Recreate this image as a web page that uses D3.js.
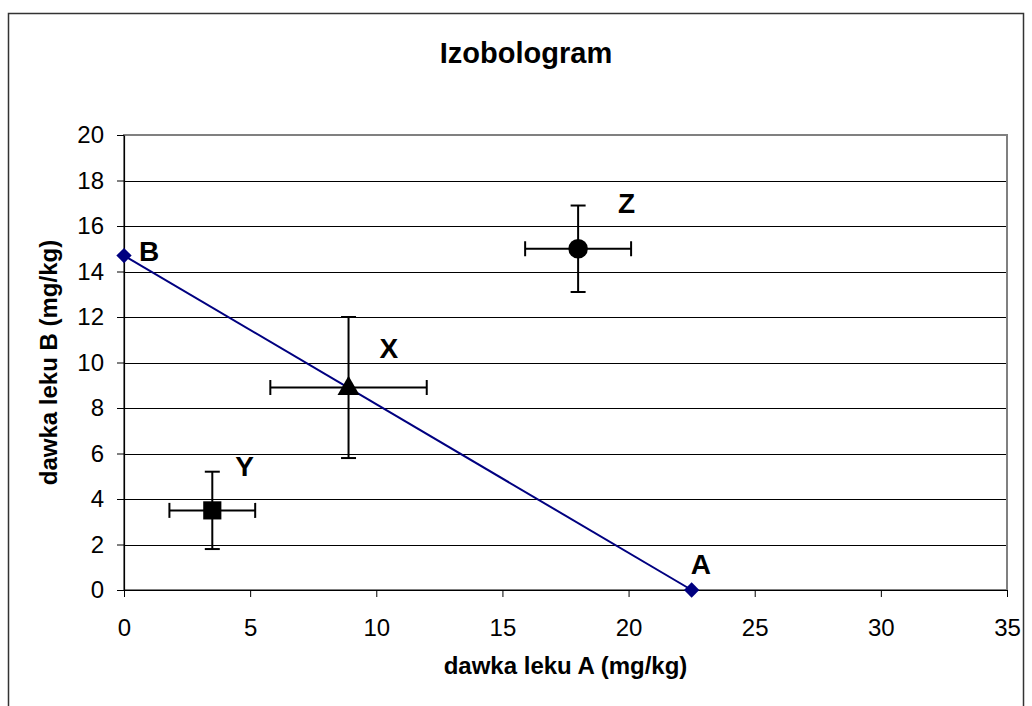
<!DOCTYPE html>
<html>
<head>
<meta charset="utf-8">
<script src="https://cdn.jsdelivr.net/npm/d3@7"></script>
<style>
  html, body { margin: 0; padding: 0; background: #fff; }
  svg { display: block; }
  text { font-family: "Liberation Sans", Arial, sans-serif; fill: #000; }
</style>
</head>
<body>
<div id="chart"></div>
<script>
// ---- data ----
const chartTitle = "Izobologram";
const xAxisTitle = "dawka leku A (mg/kg)";
const yAxisTitle = "dawka leku B (mg/kg)";
const xTicks = [0, 5, 10, 15, 20, 25, 30, 35];
const yTicks = [0, 2, 4, 6, 8, 10, 12, 14, 16, 18, 20];

// isobole line (B on y-axis, A on x-axis)
const lineNames = ["B", "A"];
const lineX = [0, 22.5];
const lineY = [14.7, 0];

// measured combinations
const pointNames = ["X", "Y", "Z"];
const pointX = [8.9, 3.5, 18];
const pointY = [8.9, 3.5, 15];
const pointXErr = [3.1, 1.7, 2.1];
const pointYErr = [3.1, 1.7, 1.9];
const pointShapes = ["triangle", "square", "circle"];

// ---- layout / style ----
const W = 1032, H = 706;
const plot = { left: 124, top: 135, right: 1007, bottom: 590 };
const labelOffsets = {
  B: [15, 5], A: [-1, -16],
  X: [31, -30], Y: [23, -34], Z: [40, -36]
};

const svg = d3.select("#chart").append("svg").attr("width", W).attr("height", H);

// outer chart frame
svg.append("rect").attr("x", 8.5).attr("y", 13.5).attr("width", 1015).attr("height", 720)
  .attr("fill", "#fff").attr("stroke", "#333").attr("stroke-width", 1.5);

const x = d3.scaleLinear().domain([0, 35]).range([plot.left, plot.right]);
const y = d3.scaleLinear().domain([0, 20]).range([plot.bottom, plot.top]);

// gridlines
svg.append("g").selectAll("line").data(yTicks.filter(t => t > 0 && t < 20)).join("line")
  .attr("x1", plot.left).attr("x2", plot.right)
  .attr("y1", d => Math.round(y(d)) + 0.5).attr("y2", d => Math.round(y(d)) + 0.5)
  .attr("stroke", "#000").attr("stroke-width", 1);

// plot area border
svg.append("rect").attr("x", plot.left).attr("y", plot.top)
  .attr("width", plot.right - plot.left).attr("height", plot.bottom - plot.top)
  .attr("fill", "none").attr("stroke", "#808080").attr("stroke-width", 2);

// axes
const xAxis = d3.axisBottom(x).tickValues(xTicks).tickSizeInner(7).tickSizeOuter(0).tickPadding(22);
const yAxis = d3.axisLeft(y).tickValues(yTicks).tickSizeInner(7).tickSizeOuter(0).tickPadding(13);

const gx = svg.append("g").attr("transform", `translate(0,${plot.bottom})`).call(xAxis);
const gy = svg.append("g").attr("transform", `translate(${plot.left},0)`).call(yAxis);
[gx, gy].forEach(g => {
  g.selectAll(".domain").attr("stroke", "#000").attr("stroke-width", 1.2);
  g.selectAll(".tick line").attr("stroke", "#000").attr("stroke-width", 1);
  g.selectAll(".tick text").attr("font-size", 24)
    .attr("font-family", "'Liberation Sans', Arial, sans-serif").attr("fill", "#000");
});

// titles
svg.append("text").attr("x", 526).attr("y", 63).attr("text-anchor", "middle")
  .attr("font-size", 29).attr("font-weight", "bold").text(chartTitle);
svg.append("text").attr("x", (plot.left + plot.right) / 2).attr("y", 674).attr("text-anchor", "middle")
  .attr("font-size", 24).attr("font-weight", "bold").text(xAxisTitle);
svg.append("text").attr("transform", `translate(57,${(plot.top + plot.bottom) / 2}) rotate(-90)`)
  .attr("text-anchor", "middle").attr("font-size", 24).attr("font-weight", "bold").text(yAxisTitle);

// isobole line
const linePts = lineX.map((v, i) => [x(v), y(lineY[i])]);
svg.append("path").attr("d", d3.line()(linePts))
  .attr("fill", "none").attr("stroke", "#000080").attr("stroke-width", 2);
svg.append("g").selectAll("path").data(linePts).join("path")
  .attr("transform", d => `translate(${d[0]},${d[1]})`)
  .attr("d", d3.symbol(d3.symbolDiamond2, 150)())
  .attr("fill", "#000080");
svg.append("g").selectAll("text").data(lineNames).join("text")
  .attr("x", (d, i) => linePts[i][0] + labelOffsets[d][0])
  .attr("y", (d, i) => linePts[i][1] + labelOffsets[d][1])
  .attr("font-size", 28).attr("font-weight", "bold").text(d => d);

// error bars
const cap = 7.5;
const eb = svg.append("g").attr("stroke", "#000").attr("stroke-width", 2).attr("fill", "none");
pointNames.forEach((n, i) => {
  const cx = x(pointX[i]), cy = y(pointY[i]);
  const x0 = x(pointX[i] - pointXErr[i]), x1 = x(pointX[i] + pointXErr[i]);
  const y0 = y(pointY[i] - pointYErr[i]), y1 = y(pointY[i] + pointYErr[i]);
  eb.append("line").attr("x1", x0).attr("x2", x1).attr("y1", cy).attr("y2", cy);
  eb.append("line").attr("x1", x0).attr("x2", x0).attr("y1", cy - cap).attr("y2", cy + cap);
  eb.append("line").attr("x1", x1).attr("x2", x1).attr("y1", cy - cap).attr("y2", cy + cap);
  eb.append("line").attr("x1", cx).attr("x2", cx).attr("y1", y0).attr("y2", y1);
  eb.append("line").attr("x1", cx - cap).attr("x2", cx + cap).attr("y1", y0).attr("y2", y0);
  eb.append("line").attr("x1", cx - cap).attr("x2", cx + cap).attr("y1", y1).attr("y2", y1);
});

// markers
const symbolMap = {
  triangle: d3.symbol(d3.symbolTriangle, 210)(),
  square: d3.symbol(d3.symbolSquare, 330)(),
  circle: d3.symbol(d3.symbolCircle, 300)()
};
svg.append("g").selectAll("path").data(pointNames).join("path")
  .attr("transform", (d, i) => `translate(${x(pointX[i])},${y(pointY[i]) + (pointShapes[i] === "triangle" ? 1 : 0)})`)
  .attr("d", (d, i) => symbolMap[pointShapes[i]])
  .attr("fill", "#000");
svg.append("g").selectAll("text").data(pointNames).join("text")
  .attr("x", (d, i) => x(pointX[i]) + labelOffsets[d][0])
  .attr("y", (d, i) => y(pointY[i]) + labelOffsets[d][1])
  .attr("font-size", 28).attr("font-weight", "bold").text(d => d);
</script>
</body>
</html>
